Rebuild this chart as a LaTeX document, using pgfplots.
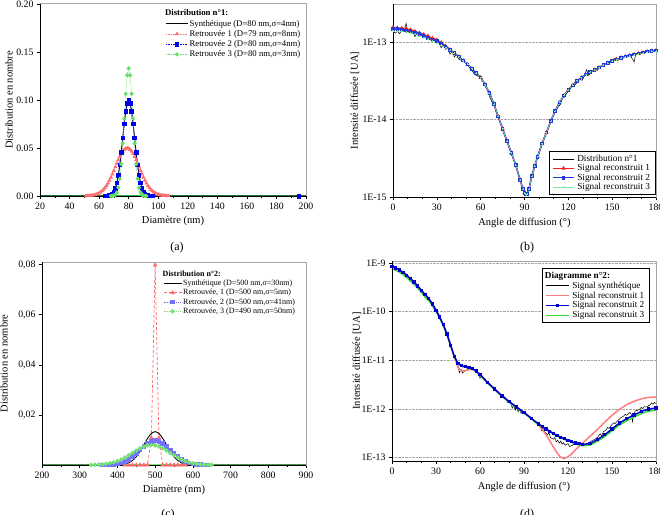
\documentclass[border=0pt]{standalone}
\usepackage{fontspec}
\setmainfont{Liberation Serif}
\usepackage{pgfplots}
\pgfplotsset{compat=1.18}
\usepackage{pgfplotstable}

\definecolor{ra}{RGB}{255,110,110}
\definecolor{ba}{RGB}{0,0,235}
\definecolor{ga}{RGB}{100,225,100}
\definecolor{basegreen}{RGB}{45,175,70}
\definecolor{rc}{RGB}{255,105,105}
\definecolor{bc}{RGB}{115,115,255}
\definecolor{gc}{RGB}{115,225,115}
\definecolor{rb}{RGB}{255,30,30}
\definecolor{bb}{RGB}{35,55,215}
\definecolor{gb}{RGB}{120,235,150}
\definecolor{rd}{RGB}{255,125,125}
\definecolor{bd}{RGB}{0,0,205}
\definecolor{gd}{RGB}{50,220,50}

% ---------- (a) ----------
\pgfplotstableread{
x y
20 0
64 0.00003
65 0.00009
66 0.00022
67 0.00051
68 0.00111
69 0.00227
70 0.00438
71 0.00793
72 0.01350
73 0.02157
74 0.03238
75 0.04566
76 0.06049
77 0.07529
78 0.08802
79 0.09667
80 0.09974
81 0.09667
82 0.08802
83 0.07529
84 0.06049
85 0.04566
86 0.03238
87 0.02157
88 0.01350
89 0.00793
90 0.00438
91 0.00227
92 0.00111
93 0.00051
94 0.00022
95 0.00009
96 0.00003
200 0
}\tabAs
\pgfplotstableread{
x y
64 0.00003
65 0.00009
66 0.00022
67 0.00051
68 0.00111
69 0.00227
70 0.00438
71 0.00793
72 0.01350
73 0.02157
74 0.03238
75 0.04566
76 0.06049
77 0.07529
78 0.08802
79 0.09667
80 0.09974
81 0.09667
82 0.08802
83 0.07529
84 0.06049
85 0.04566
86 0.03238
87 0.02157
88 0.01350
89 0.00793
90 0.00438
91 0.00227
92 0.00111
93 0.00051
94 0.00022
95 0.00009
96 0.00003
}\tabAb
\pgfplotstableread{
x y
51 0.00011
52 0.00017
53 0.00025
54 0.00038
55 0.00055
56 0.00080
57 0.00114
58 0.00159
59 0.00219
60 0.00297
61 0.00397
62 0.00522
63 0.00675
64 0.00860
65 0.01078
66 0.01332
67 0.01619
68 0.01938
69 0.02283
70 0.02649
71 0.03025
72 0.03401
73 0.03764
74 0.04102
75 0.04401
76 0.04648
77 0.04833
78 0.04948
79 0.04987
80 0.04948
81 0.04833
82 0.04648
83 0.04401
84 0.04102
85 0.03764
86 0.03401
87 0.03025
88 0.02649
89 0.02283
90 0.01938
91 0.01619
92 0.01332
93 0.01078
94 0.00860
95 0.00675
96 0.00522
97 0.00397
98 0.00297
99 0.00219
100 0.00159
101 0.00114
102 0.00080
103 0.00055
104 0.00038
105 0.00025
106 0.00017
107 0.00011
}\tabAr
\pgfplotstableread{
x y
68 0.00004
69 0.00016
70 0.00051
71 0.00148
72 0.00380
73 0.00874
74 0.01800
75 0.03316
76 0.05467
77 0.08066
78 0.10648
79 0.12579
80 0.13298
81 0.12579
82 0.10648
83 0.08066
84 0.05467
85 0.03316
86 0.01800
87 0.00874
88 0.00380
89 0.00148
90 0.00051
91 0.00016
92 0.00004
}\tabAg

% ---------- (b) ----------
\pgfplotstableread{
a r1 r2 r3
0 1.538e-13 1.479e-13 1.405e-13
3 1.520e-13 1.462e-13 1.389e-13
6 1.503e-13 1.445e-13 1.373e-13
9 1.470e-13 1.413e-13 1.342e-13
12 1.435e-13 1.380e-13 1.311e-13
15 1.371e-13 1.318e-13 1.252e-13
18 1.309e-13 1.259e-13 1.196e-13
21 1.250e-13 1.202e-13 1.142e-13
24 1.180e-13 1.135e-13 1.078e-13
27 1.115e-13 1.072e-13 1.018e-13
30 1.064e-13 1.023e-13 0.972e-13
33 9.84e-14 9.55e-14 9.17e-14
36 8.85e-14 8.71e-14 8.45e-14
39 7.94e-14 7.94e-14 7.80e-14
42 7.16e-14 7.16e-14 7.16e-14
45 6.46e-14 6.46e-14 6.46e-14
48 5.75e-14 5.75e-14 5.75e-14
51 5.13e-14 5.13e-14 5.13e-14
54 4.52e-14 4.52e-14 4.52e-14
57 3.98e-14 3.98e-14 3.98e-14
60 3.47e-14 3.47e-14 3.47e-14
63 2.82e-14 2.82e-14 2.82e-14
66 2.19e-14 2.19e-14 2.19e-14
69 1.585e-14 1.585e-14 1.585e-14
72 1.096e-14 1.096e-14 1.096e-14
75 7.59e-15 7.59e-15 7.59e-15
78 5.25e-15 5.25e-15 5.25e-15
81 3.72e-15 3.72e-15 3.72e-15
84 2.57e-15 2.57e-15 2.57e-15
87 1.66e-15 1.66e-15 1.66e-15
89 1.259e-15 1.259e-15 1.259e-15
90 1.122e-15 1.122e-15 1.122e-15
91 1.072e-15 1.072e-15 1.072e-15
92 1.096e-15 1.096e-15 1.096e-15
93 1.259e-15 1.259e-15 1.259e-15
95 1.862e-15 1.862e-15 1.862e-15
97 2.51e-15 2.51e-15 2.51e-15
99 3.31e-15 3.31e-15 3.31e-15
102 4.90e-15 4.90e-15 4.90e-15
105 6.76e-15 6.76e-15 6.76e-15
108 9.55e-15 9.55e-15 9.55e-15
111 1.288e-14 1.288e-14 1.288e-14
114 1.660e-14 1.660e-14 1.660e-14
117 2.04e-14 2.04e-14 2.04e-14
120 2.40e-14 2.40e-14 2.40e-14
123 2.75e-14 2.75e-14 2.75e-14
126 3.16e-14 3.16e-14 3.16e-14
129 3.47e-14 3.47e-14 3.47e-14
132 3.80e-14 3.80e-14 3.80e-14
135 4.07e-14 4.07e-14 4.07e-14
138 4.37e-14 4.37e-14 4.37e-14
141 4.68e-14 4.68e-14 4.68e-14
144 5.01e-14 5.01e-14 5.01e-14
147 5.37e-14 5.37e-14 5.37e-14
150 5.69e-14 5.69e-14 5.64e-14
153 5.96e-14 5.96e-14 5.90e-14
156 6.24e-14 6.24e-14 6.17e-14
159 6.46e-14 6.46e-14 6.38e-14
162 6.68e-14 6.68e-14 6.60e-14
165 6.92e-14 6.92e-14 6.83e-14
168 7.08e-14 7.08e-14 6.99e-14
171 7.33e-14 7.33e-14 7.23e-14
174 7.50e-14 7.50e-14 7.40e-14
177 7.67e-14 7.67e-14 7.56e-14
180 7.76e-14 7.76e-14 7.65e-14
}\tabB
\pgfplotstableread{
a s
0 1.40e-13
1.5 1.30e-13
3 1.38e-13
4.5 1.28e-13
6 1.42e-13
7.5 1.36e-13
9 1.74e-13
10 1.40e-13
12 1.32e-13
13.5 1.40e-13
15 1.17e-13
16.5 1.30e-13
18 1.24e-13
19.5 1.30e-13
21 1.22e-13
22.5 1.16e-13
24 1.25e-13
25.5 1.10e-13
27 1.05e-13
28.5 1.12e-13
30 1.00e-13
31.5 0.98e-13
33 0.84e-13
34.5 0.93e-13
36 0.80e-13
37.5 0.86e-13
39 0.70e-13
40.5 0.76e-13
42 0.64e-13
43.5 0.70e-13
45 0.60e-13
46.5 0.58e-13
48 0.60e-13
49.5 0.54e-13
51 0.52e-13
52.5 0.46e-13
54 0.43e-13
55.5 0.39e-13
57 0.37e-13
58.5 0.36e-13
60 0.34e-13
61.5 0.31e-13
63 0.27e-13
64.5 0.24e-13
66 0.20e-13
67.5 0.17e-13
69 0.17e-13
70.5 0.125e-13
72 0.11e-13
75 7.4e-15
78 5.3e-15
81 3.6e-15
84 2.6e-15
87 1.65e-15
90 1.10e-15
91 1.05e-15
92 1.12e-15
93 1.25e-15
95 1.85e-15
97 2.5e-15
99 3.3e-15
102 4.9e-15
105 6.8e-15
108 9.4e-15
110 1.15e-14
111.5 1.30e-14
113 1.45e-14
114.5 1.55e-14
116 1.90e-14
117.5 1.95e-14
119 2.20e-14
120.5 2.35e-14
122 2.60e-14
123.5 2.70e-14
125 2.85e-14
126.5 3.1e-14
128 3.3e-14
129.5 3.2e-14
131 3.7e-14
132.5 4.4e-14
134 3.7e-14
135.5 4.1e-14
137 4.3e-14
138.5 4.5e-14
140 4.3e-14
141.5 4.8e-14
143 4.9e-14
144.5 5.0e-14
146 5.3e-14
147.5 5.2e-14
149 5.6e-14
150.5 5.9e-14
152 6.2e-14
153.5 5.8e-14
155 6.3e-14
156.5 6.6e-14
158 6.2e-14
159.5 6.6e-14
161 6.8e-14
162.5 6.5e-14
164 6.0e-14
165 5.5e-14
166 6.8e-14
167.5 7.0e-14
169 6.9e-14
170.5 7.3e-14
172 7.1e-14
173.5 7.6e-14
175 7.5e-14
176.5 7.8e-14
178 7.7e-14
180 7.9e-14
}\tabBs

% ---------- (c) ----------
\pgfplotstableread{
x y
200 0
380 0
390 0.000016
400 0.000051
410 0.000148
420 0.000380
430 0.000874
440 0.001800
450 0.003316
460 0.005467
470 0.008066
480 0.010648
490 0.012579
500 0.013298
510 0.012579
520 0.010648
530 0.008066
540 0.005467
550 0.003316
560 0.001800
570 0.000874
580 0.000380
590 0.000148
600 0.000051
610 0.000016
620 0
900 0
}\tabCs
\pgfplotstableread{
x y
420 0
430 0
440 0
450 0
460 0
470 0
480 0
490 0.0108
500 0.0798
510 0.0108
520 0
530 0
540 0
550 0
560 0
570 0
580 0
}\tabCr
\pgfplotstableread{
x y
360 0.000029
370 0.000064
380 0.000134
390 0.000266
400 0.000497
410 0.000875
420 0.001450
430 0.002265
440 0.003335
450 0.004626
460 0.006045
470 0.007445
480 0.008639
490 0.009445
500 0.009730
510 0.009445
520 0.008639
530 0.007445
540 0.006045
550 0.004626
560 0.003335
570 0.002265
580 0.001450
590 0.000875
600 0.000497
610 0.000266
620 0.000134
630 0.000064
640 0.000029
}\tabCb
\pgfplotstableread{
x y
330 0.0000477
340 0.0000887
350 0.000158
360 0.000272
370 0.000448
380 0.000710
390 0.001080
400 0.001579
410 0.002218
420 0.002995
430 0.003884
440 0.004839
450 0.005794
460 0.006665
470 0.007366
480 0.007821
490 0.007979
500 0.007821
510 0.007366
520 0.006665
530 0.005794
540 0.004839
550 0.003884
560 0.002995
570 0.002218
580 0.001579
590 0.001080
600 0.000710
610 0.000448
620 0.000272
630 0.000158
640 0.0000887
650 0.0000477
}\tabCg

% ---------- (d) ----------
\pgfplotstableread{
a r1 r2 r3
0 8.51e-10 8.51e-10 7.66e-10
2.5 7.94e-10 7.94e-10 7.15e-10
5 7.24e-10 7.24e-10 6.52e-10
7.5 6.46e-10 6.46e-10 5.81e-10
10 5.62e-10 5.62e-10 5.06e-10
12.5 4.79e-10 4.79e-10 4.31e-10
15 4.07e-10 4.07e-10 3.66e-10
17.5 3.39e-10 3.39e-10 3.05e-10
20 2.75e-10 2.75e-10 2.48e-10
22.5 2.26e-10 2.26e-10 2.03e-10
25 1.86e-10 1.86e-10 1.70e-10
27.5 1.445e-10 1.445e-10 1.35e-10
30 1.072e-10 1.072e-10 1.01e-10
32.5 7.76e-11 7.76e-11 7.37e-11
35 5.37e-11 5.37e-11 5.10e-11
37.5 3.47e-11 3.47e-11 3.30e-11
40 2.04e-11 2.04e-11 1.96e-11
42.5 1.20e-11 1.20e-11 1.17e-11
45 7.08e-12 8.71e-12 8.51e-12
47.5 6.03e-12 7.76e-12 7.50e-12
50 6.17e-12 7.41e-12 7.20e-12
52.5 6.46e-12 7.16e-12 6.95e-12
55 6.46e-12 6.76e-12 6.55e-12
57.5 5.89e-12 6.03e-12 5.85e-12
60 5.13e-12 5.13e-12 4.98e-12
65 3.55e-12 3.55e-12 3.45e-12
70 2.57e-12 2.57e-12 2.50e-12
75 1.862e-12 1.862e-12 1.81e-12
80 1.413e-12 1.413e-12 1.37e-12
85 1.096e-12 1.096e-12 1.06e-12
90 8.51e-13 8.51e-13 8.25e-13
95 6.46e-13 6.46e-13 6.27e-13
100 4.68e-13 4.90e-13 4.75e-13
102.5 3.80e-13 4.37e-13 4.24e-13
105 2.95e-13 3.89e-13 3.77e-13
107.5 2.24e-13 3.51e-13 3.40e-13
110 1.66e-13 3.16e-13 3.06e-13
112.5 1.26e-13 2.88e-13 2.79e-13
115 1.02e-13 2.63e-13 2.55e-13
117.5 9.55e-14 2.45e-13 2.37e-13
120 1.047e-13 2.29e-13 2.21e-13
122.5 1.20e-13 2.14e-13 2.06e-13
125 1.445e-13 2.00e-13 1.92e-13
127.5 1.70e-13 1.93e-13 1.84e-13
130 2.00e-13 1.862e-13 1.76e-13
135 2.75e-13 1.95e-13 1.82e-13
140 3.80e-13 2.34e-13 2.17e-13
145 5.37e-13 2.95e-13 2.72e-13
150 7.41e-13 3.89e-13 3.57e-13
155 9.77e-13 5.13e-13 4.69e-13
160 1.23e-12 6.31e-13 5.75e-13
165 1.445e-12 7.59e-13 6.90e-13
170 1.62e-12 8.91e-13 8.07e-13
175 1.74e-12 1.00e-12 9.05e-13
180 1.76e-12 1.047e-12 9.46e-13
}\tabD
\pgfplotstableread{
a s
0 8.3e-10
2 7.9e-10
4 7.5e-10
6 6.9e-10
8 6.3e-10
10 5.7e-10
12 4.3e-10
12.5 5.1e-10
14 4.5e-10
16 3.8e-10
18 3.3e-10
20 2.7e-10
22 2.35e-10
24 1.95e-10
26 1.7e-10
28 1.25e-10
29 1.1e-10
30 1.12e-10
32 8.0e-11
34 6.2e-11
36 4.4e-11
38 3.0e-11
40 2.0e-11
42 1.3e-11
44 9.5e-12
45 7.5e-12
46 5.6e-12
47 6.5e-12
48 5.5e-12
50 6.2e-12
52 6.6e-12
54 6.8e-12
56 6.3e-12
58 5.8e-12
60 4.3e-12
61 5.0e-12
63 4.2e-12
65 3.6e-12
67 3.1e-12
69 2.7e-12
71 2.45e-12
73 2.1e-12
75 1.9e-12
77 1.75e-12
79 1.35e-12
80 1.45e-12
81 1.3e-12
82 1.05e-12
83 1.2e-12
84 0.95e-12
85 1.1e-12
86 0.88e-12
87 1.0e-12
88 0.82e-12
89 0.92e-12
90 0.85e-12
92 0.75e-12
94 0.66e-12
96 0.6e-12
98 0.52e-12
100 0.47e-12
101 0.44e-12
102 0.36e-12
103 0.42e-12
104 0.34e-12
106 0.30e-12
107 0.32e-12
108 0.26e-12
110 0.24e-12
111 0.26e-12
112 0.21e-12
113 0.23e-12
114 0.20e-12
115 0.22e-12
116 0.19e-12
117 0.205e-12
118 0.18e-12
120 0.195e-12
121 0.17e-12
123 0.18e-12
124 0.19e-12
126 0.185e-12
128 0.18e-12
130 0.185e-12
132 0.19e-12
134 0.20e-12
136 0.22e-12
138 0.235e-12
140 0.26e-12
142 0.31e-12
143 0.28e-12
144 0.34e-12
146 0.37e-12
147 0.42e-12
148 0.40e-12
150 0.48e-12
151 0.52e-12
152 0.50e-12
154 0.58e-12
155 0.62e-12
156 0.66e-12
158 0.72e-12
159 0.78e-12
160 0.74e-12
162 0.85e-12
163 0.80e-12
164 0.55e-12
165 0.82e-12
166 0.92e-12
168 0.95e-12
169 1.0e-12
170 1.08e-12
171 1.02e-12
172 1.12e-12
174 1.1e-12
175 1.18e-12
176 1.22e-12
177 1.35e-12
178 1.25e-12
179 1.36e-12
180 1.3e-12
}\tabDs

\pgfplotsset{
  common/.style={
    scale only axis, anchor=south west, clip=false,
    tick align=outside, xtick pos=bottom, ytick pos=left,
    major tick length=3pt, minor tick length=1.6pt,
    axis line style={draw=gray!70, line width=1pt},
    tick style={black, line width=0.5pt},
    tick label style={font=\fontsize{9.8}{11}\selectfont},
    label style={font=\fontsize{10.5}{12}\selectfont},
    /pgf/number format/assume math mode=true,
    legend cell align=left,
  },
}

\begin{document}
\begin{tikzpicture}
\path[use as bounding box] (0pt,0pt) rectangle (660pt,514pt);
\clip (0pt,0pt) rectangle (660pt,514pt);

% ===================== (a) =====================
\begin{axis}[common, at={(40pt,318pt)}, width=266pt, height=192pt,
  xmin=20, xmax=200, ymin=0, ymax=0.2,
  xtick={20,40,...,200}, ytick={0,0.05,0.1,0.15,0.2}, minor x tick num=1,
  scaled y ticks=false,
  yticklabel style={/pgf/number format/.cd, fixed, fixed zerofill, precision=2},
  xlabel={Diamètre (nm)}, ylabel={Distribution en nombre},
  xlabel style={at={(axis description cs:0.5,-0.130)}, anchor=center},
  ylabel style={at={(axis description cs:-0.1165,0.5)}, anchor=center},
  legend style={draw=none, fill=none, at={(0.995,0.99)}, anchor=north east,
    font=\fontsize{8.7}{10.5}\selectfont, row sep=-0.5pt, nodes={inner xsep=1.2pt, inner ysep=1.6pt}},
  legend image code/.code={\draw[mark repeat=2,mark phase=2,#1] plot coordinates {(0pt,0pt) (11pt,0pt) (22pt,0pt)};},
]
\addplot[basegreen, line width=2.2pt, forget plot] coordinates {(20,0) (200,0)};
\addlegendimage{empty legend}
\addlegendentry{\hspace*{-24.5pt}\textbf{Distribution n°1:}}
\addplot[black, line width=0.9pt] table[x=x,y=y] {\tabAs};
\addlegendentry{Synthétique (D=80 nm,σ=4nm)}
\addplot[ra, densely dotted, line width=0.7pt, mark=triangle*, mark size=1.7pt, mark options={solid}] table[x=x,y=y] {\tabAr};
\addlegendentry{Retrouvée 1 (D=79 nm,σ=8nm)}
\addplot[ba, densely dotted, line width=0.7pt, mark=square*, mark size=1.8pt, mark options={solid}] table[x=x,y=y] {\tabAb};
\addlegendentry{Retrouvée 2 (D=80 nm,σ=4nm)}
\addplot[ga, densely dotted, line width=0.7pt, mark=*, mark size=1.7pt, mark options={solid}] table[x=x,y=y] {\tabAg};
\addlegendentry{Retrouvée 3 (D=80 nm,σ=3nm)}
\addplot[ba, only marks, mark=square*, mark size=1.8pt, forget plot] coordinates {(195,0)};
\draw[black, line width=0.8pt] (rel axis cs:0,1) -- (rel axis cs:0,0) -- (rel axis cs:1,0);
\end{axis}

% ===================== (b) =====================
\begin{axis}[common, at={(393pt,317pt)}, width=263pt, height=193pt,
  xmin=0, xmax=180, ymode=log, ymin=1e-15, ymax=3.09e-13,
  xtick={0,30,...,180}, minor x tick num=2,
  ytick={1e-15,1e-14,1e-13}, yticklabels={1E-15,1E-14,1E-13}, yminorticks=false,
  ymajorgrids, major grid style={densely dotted, gray!70, line width=0.5pt},
  xlabel={Angle de diffusion (°)}, ylabel={Intensité diffusée [UA]},
  xlabel style={at={(axis description cs:0.5,-0.135)}, anchor=center},
  ylabel style={at={(axis description cs:-0.1445,0.5)}, anchor=center},
  legend style={draw=black, line width=0.8pt, fill=white, at={(1,0.01)}, anchor=south east,
    font=\fontsize{9.3}{11}\selectfont, row sep=-1.5pt, nodes={inner xsep=2.5pt, inner ysep=1.5pt}},
  legend image code/.code={\draw[mark repeat=2,mark phase=2,#1] plot coordinates {(0pt,0pt) (10.5pt,0pt) (21pt,0pt)};},
]
\addplot[black, line width=0.5pt] table[x=a,y=s] {\tabBs};
\addlegendentry{Distribution n°1}
\addplot[rb, line width=1.4pt, mark=triangle*, mark size=1.1pt] table[x=a,y=r1] {\tabB};
\addlegendentry{Signal reconstruit 1}
\addplot[bb, line width=1.4pt, mark=square*, mark size=1.1pt] table[x=a,y=r2] {\tabB};
\addlegendentry{Signal reconstruit 2}
\addplot[gb, line width=0.6pt, mark=+, mark size=1pt] table[x=a,y=r3] {\tabB};
\addlegendentry{Signal reconstruit 3}
\draw[black, line width=0.8pt] (rel axis cs:0,1) -- (rel axis cs:0,0) -- (rel axis cs:1,0);
\end{axis}

% ===================== (c) =====================
\begin{axis}[common, at={(42pt,49pt)}, width=264pt, height=203pt,
  xmin=200, xmax=900, ymin=0, ymax=0.081,
  xtick={200,300,...,900}, minor x tick num=1,
  ytick={0.02,0.04,0.06,0.08}, scaled y ticks=false,
  yticklabel style={/pgf/number format/.cd, fixed, fixed zerofill, precision=2, use comma},
  xlabel={Diamètre (nm)}, ylabel={Distribution en nombre},
  xlabel style={at={(axis description cs:0.5,-0.123)}, anchor=center},
  ylabel style={at={(axis description cs:-0.144,0.5)}, anchor=center},
  legend style={draw=none, fill=none, at={(0.975,0.975)}, anchor=north east,
    font=\fontsize{8}{10}\selectfont, row sep=-0.8pt, nodes={inner xsep=1.2pt, inner ysep=1.5pt}},
  legend image code/.code={\draw[mark repeat=2,mark phase=2,#1] plot coordinates {(0pt,0pt) (9pt,0pt) (18pt,0pt)};},
]
\addplot[gc, line width=2.6pt, forget plot] coordinates {(200,0) (900,0)};
\addlegendimage{empty legend}
\addlegendentry{\hspace*{-20.5pt}\textbf{Distribution n°2:}}
\addlegendimage{black, line width=0.9pt}
\addlegendentry{Synthétique (D=500 nm,σ=30nm)}
\addplot[rc, densely dashed, line width=0.7pt, mark=triangle*, mark size=2pt, mark options={solid}] table[x=x,y=y] {\tabCr};
\addlegendentry{Retrouvée, 1 (D=500 nm,σ=5nm)}
\addplot[bc, densely dotted, line width=0.8pt, mark=square*, mark size=1.8pt, mark options={solid}] table[x=x,y=y] {\tabCb};
\addlegendentry{Retrouvée, 2 (D=500 nm,σ=41nm)}
\addplot[gc, densely dotted, line width=0.8pt, mark=*, mark size=1.8pt, mark options={solid}] table[x=x,y=y] {\tabCg};
\addlegendentry{Retrouvée, 3 (D=490 nm,σ=50nm)}
\addplot[black, line width=0.9pt, smooth, forget plot] table[x=x,y=y] {\tabCs};
\draw[black, line width=0.8pt] (rel axis cs:0,1) -- (rel axis cs:0,0) -- (rel axis cs:1,0);
\end{axis}

% ===================== (d) =====================
\begin{axis}[common, at={(392pt,53pt)}, width=264pt, height=200pt,
  xmin=0, xmax=180, ymode=log, ymin=8.55e-14, ymax=1.10e-9,
  xtick={0,30,...,180}, minor x tick num=2,
  ytick={1e-13,1e-12,1e-11,1e-10,1e-9}, yticklabels={1E-13,1E-12,1E-11,1E-10,1E-9}, yminorticks=false,
  ymajorgrids, major grid style={densely dotted, gray!70, line width=0.5pt},
  xlabel={Angle de diffusion (°)}, ylabel={Intensité diffusée [UA]},
  xlabel style={at={(axis description cs:0.5,-0.13)}, anchor=center},
  ylabel style={at={(axis description cs:-0.1326,0.5)}, anchor=center},
  legend style={draw=black, line width=0.8pt, fill=white, at={(0.977,0.965)}, anchor=north east,
    font=\fontsize{9.2}{11}\selectfont, row sep=-1pt, nodes={inner xsep=2.2pt, inner ysep=1.5pt}},
  legend image code/.code={\draw[mark repeat=2,mark phase=2,#1] plot coordinates {(0pt,0pt) (11.5pt,0pt) (23pt,0pt)};},
]
\addlegendimage{empty legend}
\addlegendentry{\hspace*{-27.4pt}\textbf{Diagramme n°2:}}
\addplot[black, line width=0.5pt] table[x=a,y=s] {\tabDs};
\addlegendentry{Signal synthétique}
\addplot[rd, line width=1.5pt] table[x=a,y=r1] {\tabD};
\addlegendentry{Signal reconstruit 1}
\addplot[gd, line width=1.5pt, forget plot] table[x=a,y=r3] {\tabD};
\addplot[bd, line width=1.5pt, mark=square*, mark size=0.9pt] table[x=a,y=r2] {\tabD};
\addlegendentry{Signal reconstruit 2}
\addlegendimage{gd, line width=1.2pt}
\addlegendentry{Signal reconstruit 3}
\draw[black, line width=0.8pt] (rel axis cs:0,1) -- (rel axis cs:0,0) -- (rel axis cs:1,0);
\end{axis}

% captions
\node[font=\fontsize{12}{14}\selectfont] at (177pt,266pt) {(a)};
\node[font=\fontsize{12}{14}\selectfont] at (527pt,266pt) {(b)};
\node[font=\fontsize{12}{14}\selectfont] at (168pt,-1pt) {(c)};
\node[font=\fontsize{12}{14}\selectfont] at (527pt,-1pt) {(d)};
\end{tikzpicture}
\end{document}
